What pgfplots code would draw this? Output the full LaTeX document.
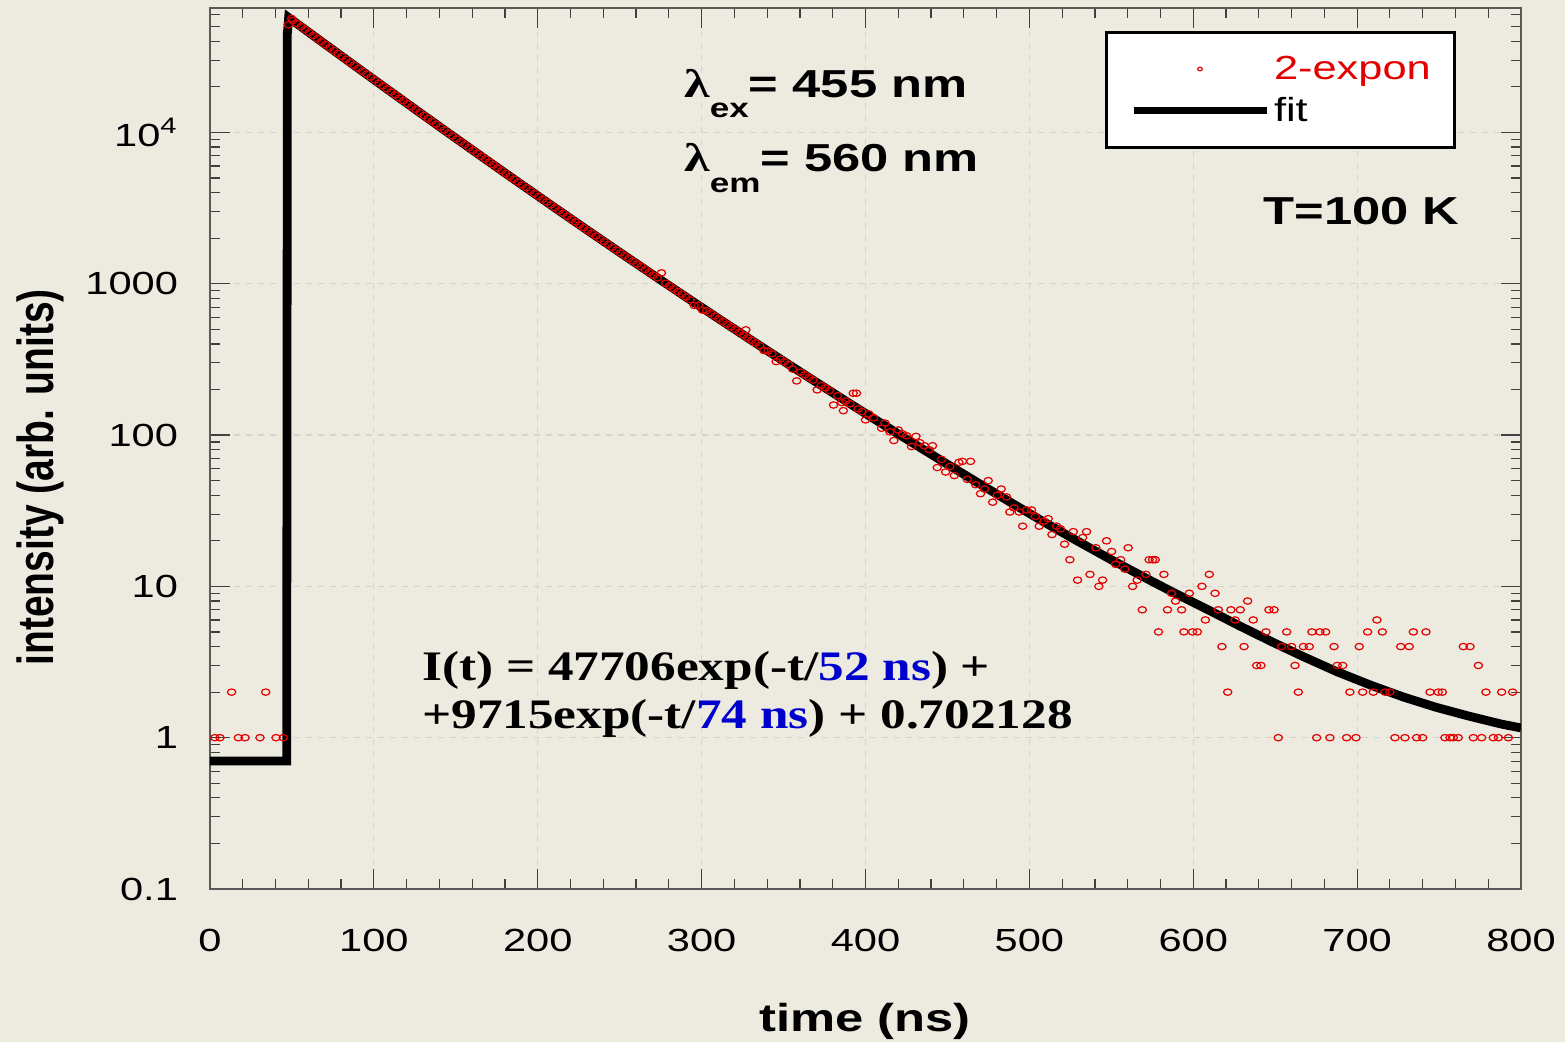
\documentclass[border=0pt]{standalone}
\usepackage{fontspec}
\setmainfont{Liberation Sans}
\newfontfamily\tnr{Liberation Serif}
\usepackage{graphicx}
\usepackage{xcolor}
\usepackage{pgfplots}
\pgfplotsset{compat=1.18}
\definecolor{bg}{RGB}{237,235,224}
\definecolor{dred}{RGB}{228,0,0}
\definecolor{fblue}{RGB}{0,0,205}
\definecolor{gridc}{RGB}{212,212,206}
\newcommand{\sx}[1]{\scalebox{1.3}[1]{#1}}
\pgfplotsset{
  fitimg/.style={legend image code/.code={\draw[##1, line width=3.5pt] (0pt,0pt) -- (66.5pt,0pt);}},
  dotimg/.style={legend image code/.code={\draw[##1, mark size=0.9pt, mark repeat=2, mark phase=2] plot coordinates {(0pt,0pt) (33.25pt,0pt) (66.5pt,0pt)};}},
}
\begin{document}
\begin{tikzpicture}
\fill[bg] (-105pt,-76.5pt) rectangle (677.5pt,444.5pt);
\begin{axis}[
  scale only axis, width=655.5pt, height=440.5pt,
  at={(0pt,0pt)}, anchor=south west,
  xmin=0, xmax=800, ymode=log, ymin=0.1, ymax=66450,
  xtick={0,100,200,300,400,500,600,700,800},
  xticklabels={\sx{0},\sx{100},\sx{200},\sx{300},\sx{400},\sx{500},\sx{600},\sx{700},\sx{800}},
  minor x tick num=4,
  ytick={0.1,1,10,100,1000,10000},
  yticklabels={\sx{0.1},\sx{1},\sx{10},\sx{100},\sx{1000},\sx{10\textsuperscript{4}}},
  minor ytick={0.2,0.3,0.4,0.5,0.6,0.7,0.8,0.9,2,3,4,5,6,7,8,9,20,30,40,50,60,70,80,90,200,300,400,500,600,700,800,900,2000,3000,4000,5000,6000,7000,8000,9000,20000,30000,40000,50000,60000},
  tick align=inside,
  major tick length=10pt, minor tick length=5pt,
  tick style={black!75, line width=0.6pt},
  axis line style={black!65, line width=0.9pt},
  ticklabel style={font=\fontsize{16}{16}\selectfont},
  xticklabel style={yshift=-16.5pt},
  yticklabel style={xshift=-12.5pt},
  xmajorgrids, ymajorgrids,
  major grid style={gridc, line width=0.6pt, dash pattern=on 3pt off 3pt},
  reverse legend,
  legend cell align=left,
  legend style={at={(rel axis cs:0.6827,0.9740)}, anchor=north west, draw=black, line width=1.5pt, fill=white,
    inner xsep=11.75pt, inner ysep=11.75pt, column sep=2pt, row sep=7.5pt,
    font=\fontsize{16.7}{16.7}\selectfont, nodes={inner sep=0pt}},
]
\addplot[black, line width=4.4pt, line join=miter, mark=none, fitimg]
  coordinates {(0,0.702) (46.8,0.702) (47.2,45000) (48,57422) (58,47860) (68,39888) (78,33280) (88,27763) (98,23183) (108,19365) (118,16190) (128,13538) (138,11334) (148,9487) (158,7951) (168,6665) (178,5594) (188,4695) (198,3947) (208,3317) (218,2792) (228,2350) (248,1670) (268,1191) (288,851.9) (308,611.3) (328,440.2) (348,318.1) (368,230.6) (388,167.8) (408,122.6) (428,89.8) (448,66.1) (468,48.8) (488,36.2) (508,27.0) (528,20.3) (548,15.4) (568,11.8) (588,9.1) (608,7.1) (628,5.5) (648,4.3) (668,3.4) (688,2.72) (708,2.23) (728,1.86) (748,1.59) (768,1.39) (788,1.23) (800,1.16)};
\addlegendentry{\sx{fit}}
\addplot[only marks, mark=o, mark size=1.6pt, mark options={dred, xscale=1.3, line width=0.6pt}, dotimg]
  coordinates {
(3.0,1) (6.1,1) (13.2,2) (17.3,1) (21.4,1) (30.5,1) (34.0,2) (40.3,1) (44.7,1)
(47.8,51500) (49.8,56600)
(50.5,54900) (53,52400) (55.5,50100) (58,47900) (60.5,45700) (63,43700) (65.5,41700) (68,39900) (70.5,38100) (73,36400) (75.5,34800) (78,33300) (80.5,31800) (83,30400) (85.5,29000) (88,27800) (90.5,26500) (93,25400) (95.5,24300) (98,23200) (100.5,22200) (103,21200) (105.5,20300) (108,19400) (110.5,18500) (113,17700) (115.5,16900) (118,16200) (120.5,15500) (123,14800) (125.5,14200) (128,13540) (130.5,12950) (133,12390) (135.5,11850) (138,11330) (140.5,10840) (143,10370) (145.5,9920) (148,9490) (150.5,9080) (153,8690) (155.5,8310) (158,7950) (160.5,7610) (163,7280) (165.5,6970) (168,6670) (170.5,6380) (173,6110) (175.5,5840) (178,5590) (180.5,5350) (183,5120) (185.5,4910) (188,4700) (190.5,4500) (193,4310) (195.5,4120) (198,3950) (200.5,3780) (203,3620) (205.5,3470) (208,3320) (210.5,3180) (213,3040) (215.5,2920) (218,2790) (220.5,2670) (223,2560) (225.5,2450) (228,2350) (230.5,2250) (233,2160) (235.5,2070) (238,1980) (240.5,1900) (243,1820) (245.5,1740) (248,1670) (250.5,1600) (253,1535) (255.5,1470) (258,1410) (260.5,1350) (263,1300) (265.5,1240) (268,1190) (270.5,1140) (273,1095) (275.5,1180) (278,1007) (280.5,966) (283,926) (285.5,888) (288,852) (290.5,817) (293,784) (295.5,720) (298,722) (300.5,670) (303,664) (305.5,637) (308,611) (310.5,587) (313,563) (315.5,540) (318,519) (320.5,498) (323,478) (325.5,458) (327,496) (328,440) (330.5,423) (333,406) (335.5,390) (338,362) (340.5,359) (343,345) (345.5,306) (348,318) (350.5,305) (353,293) (355.5,273) (358,228) (360.5,260) (363,250) (365.5,240) (368,231) (370.5,199) (373,213) (375.5,205) (378,197) (380.5,158) (383,182) (385.5,164) (386.5,145) (388,168) (390.5,161) (392.5,189) (394.5,189) (395.5,149) (398,143) (400,126) (402,138) (405,130)
(409.8,111) (411.9,120) (414.9,105) (417.3,92) (420.0,108) (422.6,102) (425.1,99) (428.1,84) (430.8,98) (433.2,89) (435.9,85) (438.9,80) (440.9,85) (443.8,61) (446.4,69) (448.9,57) (451.5,62) (454.2,54) (457.0,66) (459.2,67) (462.1,51) (464.1,67) (467.2,47) (470.2,41) (472.7,44) (474.9,50) (477.6,36) (480.4,40) (482.8,44) (486.1,39) (488.1,31) (490.6,33) (493.8,31) (495.9,25) (498.3,32) (501.3,32) (503.6,29) (506.0,25) (508.9,27) (511.5,28) (513.8,22) (516.6,25) (519.0,24) (521.5,19) (524.7,15) (526.8,23) (529.4,11) (532.5,21) (534.9,23) (537.0,12) (540.6,18) (542.4,10) (544.7,11) (547.1,20) (550.2,17) (552.6,14) (555.7,15) (558.3,13) (560.3,18) (563.0,10) (565.8,11) (568.9,7) (571.1,12) (573.1,15) (575.2,15) (576.8,15) (578.8,5) (582.1,12) (584.3,7) (586.8,9) (589.2,8)
(651.9,1) (675.3,1) (683.4,1) (693.6,1) (699.3,1) (723.1,1) (729.2,1) (736.3,1) (740.0,1) (753.6,1) (756.7,1) (758.7,1) (761.7,1) (770.9,1) (776.0,1) (783.1,1) (786.2,1) (792.3,1)
(621.0,2) (664.1,2) (695.6,2) (703.4,2) (709.9,2) (717.0,2) (720.0,2) (744.5,2) (749.5,2) (752.0,2) (778.6,2) (788.2,2) (794.9,2)
(638.7,3) (641.3,3) (662.1,3) (687.9,3) (691.2,3) (774.0,3)
(617.5,4) (631.0,4) (653.9,4) (660.0,4) (667.2,4) (670.8,4) (685.9,4) (701.3,4) (726.6,4) (731.8,4) (764.8,4) (768.9,4)
(594.3,5) (599.6,5) (602.5,5) (644.4,5) (657.0,5) (672.4,5) (677.3,5) (680.8,5) (706.4,5) (715.4,5) (734.3,5) (742.0,5)
(607.4,6) (625.5,6) (636.6,6) (712.1,6)
(592.9,7) (615.3,7) (623.0,7) (628.7,7) (646.2,7) (649.3,7)
(633.2,8) (597.6,9) (613.3,9) (605.3,10) (609.8,12)
};
\addlegendentry{\textcolor{dred}{\sx{2-expon}}}
\end{axis}
\node[anchor=base west, inner sep=0pt] at (237pt,395.5pt) {\sx{{\tnr\bfseries\fontsize{20}{20}\selectfont λ}\raisebox{-10pt}{\bfseries\fontsize{13.5}{13.5}\selectfont ex}{\bfseries\fontsize{19.5}{19.5}\selectfont= 455 nm}}};
\node[anchor=base west, inner sep=0pt] at (237pt,358.75pt) {\sx{{\tnr\bfseries\fontsize{20}{20}\selectfont λ}\raisebox{-10.5pt}{\bfseries\fontsize{13.5}{13.5}\selectfont em}{\bfseries\fontsize{19.5}{19.5}\selectfont= 560 nm}}};
\node[anchor=base west, inner sep=0pt] at (526.6pt,332pt) {\sx{\bfseries\fontsize{19.5}{19.5}\selectfont T=100 K}};
\node[anchor=base west, inner sep=0pt] at (105.9pt,104.2pt) {\scalebox{1.22}[1]{\tnr\bfseries\fontsize{21}{21}\selectfont I(t) = 47706exp(-t/\textcolor{fblue}{52 ns}) +}};
\node[anchor=base west, inner sep=0pt] at (105.9pt,80.3pt) {\scalebox{1.22}[1]{\tnr\bfseries\fontsize{21}{21}\selectfont +9715exp(-t/\textcolor{fblue}{74 ns}) + 0.702128}};
\node[anchor=base, inner sep=0pt] at (327.5pt,-71.5pt) {\sx{\bfseries\fontsize{19.5}{19.5}\selectfont time (ns)}};
\node[rotate=90, anchor=center, inner sep=0pt] at (-85pt,205.75pt) {\scalebox{1}[1.3]{\bfseries\fontsize{19.5}{19.5}\selectfont intensity (arb. units)}};
\pgfresetboundingbox
\path[use as bounding box] (-105pt,-76.5pt) rectangle (677.5pt,444.5pt);
\end{tikzpicture}
\end{document}
